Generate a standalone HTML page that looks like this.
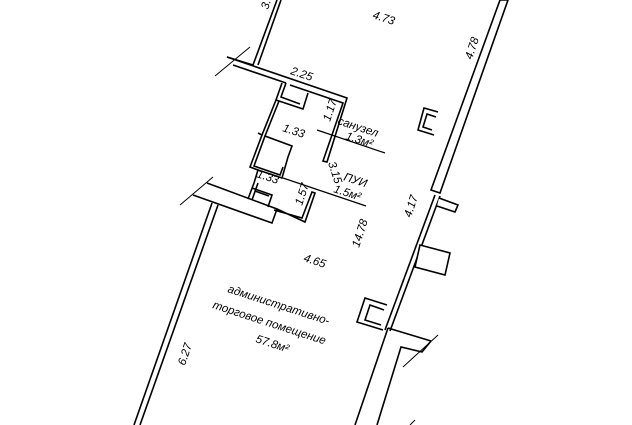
<!DOCTYPE html>
<html><head><meta charset="utf-8"><style>
html,body{margin:0;padding:0;background:#fff;width:632px;height:425px;overflow:hidden}
svg text{font-family:"Liberation Sans",sans-serif;font-style:italic;font-size:11.5px;fill:#000}
</style></head><body>
<svg width="632" height="425" viewBox="0 0 632 425" xmlns="http://www.w3.org/2000/svg">
<g fill="none" stroke="#000" stroke-width="1.6" stroke-linejoin="miter">
<polyline points="277,0 253,65 227,57"/>
<polyline points="281,0 258,65"/>
<line x1="215" y1="76" x2="250" y2="47" stroke-width="1"/>
<polyline points="233,65 286,83"/>
<polyline points="227,57 347,98 327,162 323,161 343,103 290,85"/>
<polyline points="282,83 276,100 303,109 308,93"/>
<polyline points="286,83 281,97 300,104"/>
<polyline points="276,100 262,135 258,133"/>
<polyline points="279,101 265,136 292,146 288,157"/>
<polyline points="262,135 250,167 258,170 254,183"/>
<polyline points="265,136 254,166 280,175 283,167"/>
<polyline points="258,170 282,178 288,157"/>
<polyline points="254,183 248,199"/>
<polyline points="258,183 252,200"/>
<polyline points="252,188 272,195 268,207"/>
<polyline points="255,191 269,196"/>
<polyline points="207,183 277,209 272,223 193,195"/>
<line x1="180" y1="205" x2="213" y2="177" stroke-width="1"/>
<polyline points="277,209 305,222 315,193 312,192 302,218 274,210"/>
<line x1="212" y1="203" x2="134" y2="425"/>
<line x1="218" y1="205" x2="140" y2="425"/>
<polygon points="500,0 508,0 440,193 431,190" fill="#fff"/>
<polyline points="438,112 424,108 418,130 434,135"/>
<polyline points="436,117 427,114 423,127 432,130"/>
<line x1="435" y1="195" x2="385" y2="330"/>
<line x1="440" y1="196" x2="390" y2="331"/>
<polyline points="439,198 458,205 455,212 437,206" fill="#fff"/>
<polygon points="420,245 450,253 445,275 415,267" fill="#fff"/>
<polyline points="387,305 365,298 357,322 383,330"/>
<polyline points="384,310 370,305 365,320 381,325"/>
<polyline points="388,328 431,341"/>
<line x1="388" y1="328" x2="355" y2="425"/>
<polyline points="431,341 422,352 401,347 377,425"/>
<line x1="438" y1="335" x2="403" y2="367" stroke-width="1"/>
<line x1="410" y1="425" x2="415" y2="420" stroke-width="1"/>
<line x1="317" y1="130" x2="385" y2="153" stroke-width="1.2"/>
<line x1="283" y1="178" x2="366" y2="206" stroke-width="1.2"/>
</g>
<text transform="translate(372,18) rotate(18)">4.73</text>
<text transform="translate(472,60) rotate(-72)">4.78</text>
<text transform="translate(268,10) rotate(-72)">3.7</text>
<text transform="translate(290,74) rotate(18)">2.25</text>
<text transform="translate(330,122) rotate(-72)">1.17</text>
<text transform="translate(337,124) rotate(18)">санузел</text>
<text transform="translate(345,139) rotate(18)">1.3м²</text>
<text transform="translate(282,131) rotate(18)">1.33</text>
<text transform="translate(328,163) rotate(72)">3.15</text>
<text transform="translate(256,177) rotate(18)">1.33</text>
<text transform="translate(343,180) rotate(18)">ПУИ</text>
<text transform="translate(333,192) rotate(18)">1.5м²</text>
<text transform="translate(302,206) rotate(-72)">1.57</text>
<text transform="translate(411,218) rotate(-72)">4.17</text>
<text transform="translate(359,248) rotate(-72)">14.78</text>
<text transform="translate(303,261) rotate(18)">4.65</text>
<text transform="translate(227,292) rotate(18)">административно-</text>
<text transform="translate(212,308) rotate(18)">торговое помещение</text>
<text transform="translate(255,342) rotate(18)">57.8м²</text>
<text transform="translate(185,366) rotate(-72)">6.27</text>
</svg>
</body></html>
